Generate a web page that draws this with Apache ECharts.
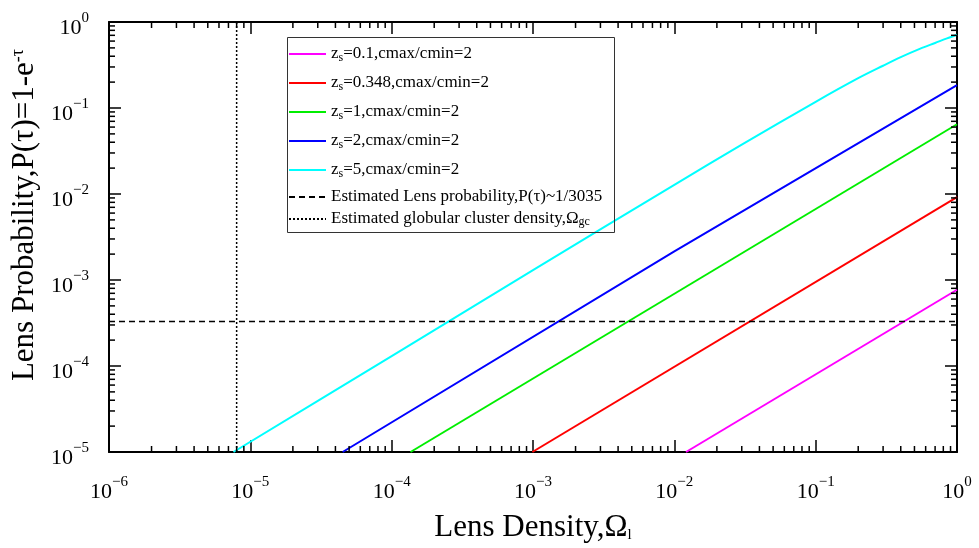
<!DOCTYPE html>
<html><head><meta charset="utf-8">
<script src="https://cdn.jsdelivr.net/npm/echarts@6/dist/echarts.min.js"></script>
<style>html,body{margin:0;padding:0;background:#fff}#c{width:979px;height:548px}</style>
</head><body><div id="c"></div>
<script>
// ---- data ----
const xTickLabels = ['10^-6','10^-5','10^-4','10^-3','10^-2','10^-1','10^0'];
const yTickLabels = ['10^-5','10^-4','10^-3','10^-2','10^-1','10^0'];

const names = [
  'z{sub|s}=0.1,cmax/cmin=2',
  'z{sub|s}=0.348,cmax/cmin=2',
  'z{sub|s}=1,cmax/cmin=2',
  'z{sub|s}=2,cmax/cmin=2',
  'z{sub|s}=5,cmax/cmin=2',
  'Estimated Lens probability,P(τ)~1/3035',
  'Estimated globular cluster density,Ω{sub|gc}'
];

const zs01_x   = [0.0121, 1];
const zs01_y   = [1e-5, 7.7e-4];
const zs0348_x = [9.9e-4, 1];
const zs0348_y = [1e-5, 9.2e-3];
const zs1_x    = [1.36e-4, 1];
const zs1_y    = [1e-5, 0.0647];
const zs2_x    = [4.5e-5, 0.01, 1];
const zs2_y    = [1e-5, 2.15e-3, 0.184];
const zs5_x    = [7.6e-6, 1e-4, 1e-3, 1e-2, 3e-2, 0.1, 0.2, 0.3, 0.4, 0.55, 0.7, 0.85, 1];
const zs5_y    = [1e-5, 1.3e-4, 1.3e-3, 1.28e-2, 3.75e-2, 0.118, 0.222, 0.31, 0.39, 0.49, 0.57, 0.645, 0.71];
const probLevel = 1 / 3035;
const probX = [1e-6, 1];
const omegaGc = 8.0e-6;
const omegaY = [1e-5, 1];

const colors = ['#ff00ff', '#ff0000', '#00ee00', '#0000ff', '#00ffff', '#000000', '#000000'];

// ---- helpers ----
function pairs(xs, ys) { return xs.map((x, i) => [x, ys[i]]); }
const xMinor = [], yMinor = [];
for (let e = -6; e < 0; e++) for (let m = 2; m <= 9; m++) xMinor.push([m * Math.pow(10, e), 1e-5]);
for (let e = -5; e < 0; e++) for (let m = 2; m <= 9; m++) yMinor.push([1e-6, m * Math.pow(10, e)]);

const FONT = '"Liberation Serif","DejaVu Serif","Times New Roman",serif';
function expLabel(v) {
  const e = Math.round(Math.log10(v));
  return '{b|10}{s|' + (e < 0 ? '\u2212' + (-e) : e) + '}';
}
const tickRich = {
  b: { fontFamily: FONT, fontSize: 22, color: '#000', lineHeight: 28, verticalAlign: 'bottom' },
  s: { fontFamily: FONT, fontSize: 15, color: '#000', lineHeight: 14, verticalAlign: 'top' }
};
const legRich = {
  sub: { fontFamily: FONT, fontSize: 12, color: '#000', lineHeight: 11, verticalAlign: 'bottom' }
};

function minorTickSeries(data, isX) {
  return {
    type: 'custom', name: isX ? 'xminor' : 'yminor', silent: true, clip: false,
    xAxisIndex: 0, yAxisIndex: 0, z: 10,
    data: data,
    renderItem: function (params, api) {
      const cs = params.coordSys;
      const p = api.coord([api.value(0), api.value(1)]);
      const st = { stroke: '#000', lineWidth: 1.5 };
      const L = 6;
      if (isX) {
        return { type: 'group', children: [
          { type: 'line', shape: { x1: p[0], y1: cs.y + cs.height, x2: p[0], y2: cs.y + cs.height - L }, style: st },
          { type: 'line', shape: { x1: p[0], y1: cs.y, x2: p[0], y2: cs.y + L }, style: st }
        ]};
      }
      return { type: 'group', children: [
        { type: 'line', shape: { x1: cs.x, y1: p[1], x2: cs.x + L, y2: p[1] }, style: st },
        { type: 'line', shape: { x1: cs.x + cs.width, y1: p[1], x2: cs.x + cs.width - L, y2: p[1] }, style: st }
      ]};
    }
  };
}

const chart = echarts.init(document.getElementById('c'), null, { renderer: 'canvas' });

const axisLineStyle = { lineStyle: { color: '#000', width: 2 } };
const majorTick = { show: true, inside: true, length: 12, lineStyle: { color: '#000', width: 1.5 } };

function lineSeries(i, data, extra) {
  return Object.assign({
    type: 'line', name: names[i], data: data, symbol: 'none', showSymbol: false,
    lineStyle: { color: colors[i], width: 2 }, itemStyle: { color: colors[i] },
    xAxisIndex: 0, yAxisIndex: 0, z: 3, silent: true
  }, extra || {});
}

const legendText = {
  fontFamily: FONT, fontSize: 17, color: '#000', rich: legRich
};

chart.setOption({
  animation: false,
  backgroundColor: '#fff',
  grid: { left: 109, right: 22, top: 22, bottom: 93, containLabel: false },
  xAxis: [
    {
      type: 'log', logBase: 10, min: 1e-6, max: 1, splitNumber: 6,
      position: 'bottom',
      axisLine: axisLineStyle, axisTick: majorTick, splitLine: { show: false },
      axisLabel: { margin: 23, formatter: expLabel, rich: tickRich, color: '#000' },
      name: 'Lens Density,Ω{sub|l}', nameLocation: 'middle', nameGap: 60,
      nameTextStyle: { fontFamily: FONT, fontSize: 31, color: '#000',
        rich: { sub: { fontFamily: FONT, fontSize: 15, color: '#000', lineHeight: 12, verticalAlign: 'bottom' } } }
    },
    {
      type: 'log', logBase: 10, min: 1e-6, max: 1, splitNumber: 6,
      position: 'top',
      axisLine: axisLineStyle, axisTick: majorTick, splitLine: { show: false },
      axisLabel: { show: false }
    }
  ],
  yAxis: [
    {
      type: 'log', logBase: 10, min: 1e-5, max: 1, splitNumber: 5,
      position: 'left',
      axisLine: axisLineStyle, axisTick: majorTick, splitLine: { show: false },
      axisLabel: { margin: 20, formatter: expLabel, rich: tickRich, color: '#000', padding: [6, 0, 0, 0] },
      name: 'Lens Probability,P(τ)=1-e{sup|-τ}', nameLocation: 'middle', nameGap: 68,
      nameTextStyle: { fontFamily: FONT, fontSize: 31, color: '#000', padding: [0, 0, 0, 44],
        rich: { sup: { fontFamily: FONT, fontSize: 18, color: '#000', lineHeight: 14, verticalAlign: 'top' } } }
    },
    {
      type: 'log', logBase: 10, min: 1e-5, max: 1, splitNumber: 5,
      position: 'right',
      axisLine: axisLineStyle, axisTick: majorTick, splitLine: { show: false },
      axisLabel: { show: false }
    }
  ],
  legend: [
    {
      data: names.slice(0, 5), orient: 'vertical', left: 288, top: 44, padding: 0,
      itemWidth: 37, itemHeight: 10, itemGap: 9, selectedMode: false,
      itemStyle: { color: 'rgba(0,0,0,0)', borderWidth: 0, opacity: 0 },
      textStyle: Object.assign({ lineHeight: 20 }, legendText)
    },
    {
      data: names.slice(5), orient: 'vertical', left: 288, top: 188, padding: 0,
      itemWidth: 37, itemHeight: 10, itemGap: 4, selectedMode: false,
      itemStyle: { color: 'rgba(0,0,0,0)', borderWidth: 0, opacity: 0 },
      textStyle: Object.assign({ lineHeight: 18 }, legendText)
    }
  ],
  graphic: [
    { type: 'rect', left: 287, top: 37, shape: { width: 327, height: 195 },
      style: { fill: 'rgba(0,0,0,0)', stroke: '#333', lineWidth: 1 }, z: 100, silent: true }
  ],
  series: [
    lineSeries(0, pairs(zs01_x, zs01_y)),
    lineSeries(1, pairs(zs0348_x, zs0348_y)),
    lineSeries(2, pairs(zs1_x, zs1_y)),
    lineSeries(3, pairs(zs2_x, zs2_y)),
    lineSeries(4, pairs(zs5_x, zs5_y), { smooth: 0.3 }),
    lineSeries(5, probX.map(x => [x, probLevel]), { lineStyle: { color: '#000', width: 1.5, type: [6, 4] } }),
    lineSeries(6, omegaY.map(y => [omegaGc, y]), { lineStyle: { color: '#000', width: 1.5, type: [2, 2] } }),
    minorTickSeries(xMinor, true),
    minorTickSeries(yMinor, false)
  ]
});
</script>
</body></html>
